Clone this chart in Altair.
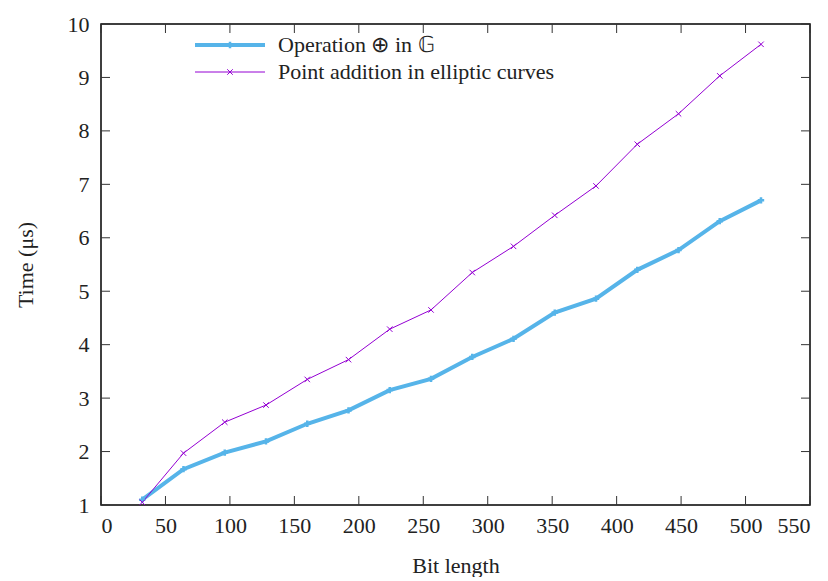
import altair as alt
import pandas as pd

bits = [32, 64, 96, 128, 160, 192, 224, 256, 288, 320, 352, 384, 416, 448, 480, 512]
op_g = [1.10, 1.67, 1.98, 2.19, 2.52, 2.77, 3.15, 3.36, 3.77, 4.11, 4.60, 4.86, 5.40, 5.77, 6.31, 6.70]
ec_add = [1.05, 1.97, 2.55, 2.87, 3.35, 3.72, 4.29, 4.65, 5.35, 5.84, 6.42, 6.97, 7.75, 8.32, 9.03, 9.62]
names = ["Operation \u2295 in \U0001D53E", "Point addition in elliptic curves"]
colors = ["#56B4E9", "#9400D3"]
widths = [4, 1]
x_ticks = list(range(0, 551, 50))
y_ticks = list(range(1, 11))

rows = []
for b, v in zip(bits, op_g):
    rows.append({"bits": b, "time": v, "series": names[0]})
for b, v in zip(bits, ec_add):
    rows.append({"bits": b, "time": v, "series": names[1]})
df = pd.DataFrame(rows)

W, H = 709, 481
FONT = "Liberation Serif"
FS = 22
plus_path = "M-1,0L1,0M0,-1L0,1"
x_path = "M-1,-1L1,1M-1,1L1,-1"

xs = alt.Scale(domain=[0, 550], nice=False, zero=False)
ys = alt.Scale(domain=[1, 10], nice=False, zero=False)

X = alt.X("bits:Q", scale=xs, axis=alt.Axis(values=x_ticks, format="d", title="Bit length", labelPadding=10, titlePadding=19))
Y = alt.Y("time:Q", scale=ys, axis=alt.Axis(values=y_ticks, format="d", title="Time (\u03bcs)", labelPadding=12, titlePadding=30))

lines = alt.Chart(df).mark_line().encode(
    x=X, y=Y,
    color=alt.Color("series:N", scale=alt.Scale(domain=names, range=colors), legend=None),
    strokeWidth=alt.StrokeWidth("series:N", scale=alt.Scale(domain=names, range=widths), legend=None),
)

pts_blue = alt.Chart(df).transform_filter(alt.datum.series == names[0]).mark_point(
    shape=plus_path, size=40, strokeWidth=2.5, color=colors[0], opacity=1
).encode(x="bits:Q", y="time:Q")

pts_purple = alt.Chart(df).transform_filter(alt.datum.series == names[1]).mark_point(
    shape=x_path, size=30, strokeWidth=1, color=colors[1], opacity=1
).encode(x="bits:Q", y="time:Q")

ydf = pd.DataFrame({"time": y_ticks})
xdf = pd.DataFrame({"bits": x_ticks})
tl = 9
t_left = alt.Chart(ydf).mark_rule(color="#333", strokeWidth=1).encode(y="time:Q", x=alt.value(0), x2=alt.value(tl))
t_right = alt.Chart(ydf).mark_rule(color="#333", strokeWidth=1).encode(y="time:Q", x=alt.value(W - tl), x2=alt.value(W))
t_bot = alt.Chart(xdf).mark_rule(color="#333", strokeWidth=1).encode(x="bits:Q", y=alt.value(H - tl), y2=alt.value(H))
t_top = alt.Chart(xdf).mark_rule(color="#333", strokeWidth=1).encode(x="bits:Q", y=alt.value(0), y2=alt.value(tl))

# key (legend) entries
legdf = pd.DataFrame({"series": names})
key_layers = []
key_x0, key_x1, key_tx = 94, 164, 177
key_rows = [21, 48]
for i, nm in enumerate(names):
    base = alt.Chart(legdf).transform_filter(alt.datum.series == nm)
    key_layers.append(base.mark_rule(color=colors[i], strokeWidth=widths[i]).encode(
        x=alt.value(key_x0), x2=alt.value(key_x1), y=alt.value(key_rows[i])))
    key_layers.append(base.mark_point(shape=[plus_path, x_path][i], size=[40, 30][i],
                                      strokeWidth=[2.5, 1][i], color=colors[i], opacity=1).encode(
        x=alt.value((key_x0 + key_x1) / 2), y=alt.value(key_rows[i])))
    key_layers.append(base.mark_text(align="left", baseline="middle", font=FONT, fontSize=FS, color="#222").encode(
        text="series:N", x=alt.value(key_tx), y=alt.value(key_rows[i])))

chart = alt.layer(lines, pts_blue, pts_purple, t_left, t_right, t_bot, t_top, *key_layers).properties(
    width=W, height=H,
    autosize=alt.AutoSizeParams(type="none"),
    padding={"left": 93, "top": 16, "right": 10, "bottom": 72},
).configure_view(stroke="black", strokeWidth=1.5).configure_axis(
    grid=False, domain=False, ticks=False, labelFont=FONT, labelFontSize=FS, labelColor="#222",
    titleFont=FONT, titleFontSize=FS, titleFontWeight="normal", titleColor="#222",
)

chart.save("out.html", embed_options={"renderer": "svg", "actions": False})
